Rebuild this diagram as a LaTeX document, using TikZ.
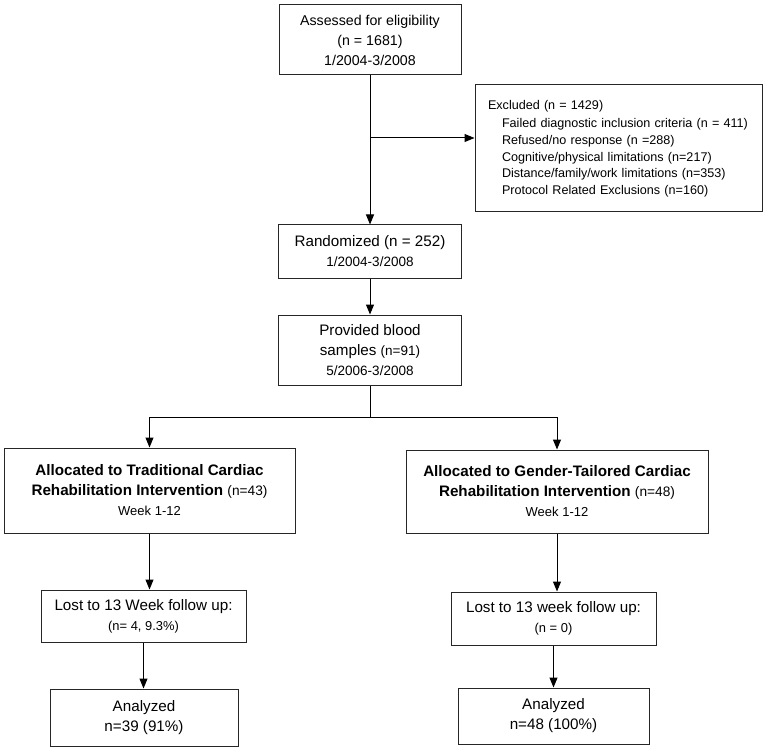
\documentclass[tikz,border=0pt]{standalone}
\usepackage{fontspec}
\setmainfont{Liberation Sans}
\usetikzlibrary{arrows.meta}
\newcommand{\sz}[2]{\fontsize{#1}{#2}\selectfont}

\begin{document}
\begin{tikzpicture}[x=1pt,y=-1pt,
  box/.style={draw=black!85,line width=1pt,rectangle,align=center,inner sep=0pt,node font=\sz{15.2}{20}},
  arr/.style={-{Triangle[length=10pt,width=8pt]},line width=1pt}]
\useasboundingbox (0,0) rectangle (765,751);
% top of the chart
\node[box,minimum width=182,minimum height=70,node font=\sz{14.2}{20}] (assess) at (370,40)
  {Assessed for eligibility\\ (n = 1681)\\ 1/2004-3/2008};
\node[box,minimum width=287,minimum height=127,align=left,text width=261pt,
  node font=\sz{12.6}{16.7}] (excl) at (618.5,148.5)
  {Excluded (n = 1429)\\[2pt]
  \hspace*{14pt}Failed diagnostic inclusion criteria (n = 411)\\
  \hspace*{14pt}Refused/no response (n =288)\\
  \hspace*{14pt}Cognitive/physical limitations (n=217)\\
  \hspace*{14pt}Distance/family/work limitations (n=353)\\
  \hspace*{14pt}Protocol Related Exclusions (n=160)};
\node[box,minimum width=183,minimum height=53] (rand) at (370,251.5)
  {Randomized (n = 252)\\ {\sz{13.5}{18}1/2004-3/2008}};
\node[box,minimum width=183,minimum height=70] (blood) at (370,350)
  {Provided blood\\ samples {\sz{13.5}{20}(n=91)}\\ {\sz{13.5}{20}5/2006-3/2008}};
% the two arms
\node[box,minimum width=291,minimum height=85] (lalloc) at (149.5,490.5)
  {\textbf{Allocated to Traditional Cardiac}\\
   \textbf{Rehabilitation Intervention} {\sz{13.7}{20}(n=43)}\\
   {\sz{13}{20}Week 1-12}};
\node[box,minimum width=302,minimum height=83] (ralloc) at (557,491.5)
  {\textbf{Allocated to Gender-Tailored Cardiac}\\
   \textbf{Rehabilitation Intervention} {\sz{13.7}{20}(n=48)}\\
   {\sz{13}{20}Week 1-12}};
\node[box,minimum width=205,minimum height=52] (llost) at (143.5,616)
  {Lost to 13 Week follow up:\\ {\sz{12.9}{20}(n= 4, 9.3\%)}};
\node[box,minimum width=205,minimum height=53] (rlost) at (553.5,618.5)
  {Lost to 13 week follow up:\\ {\sz{12.9}{20}(n = 0)}};
\node[box,minimum width=188,minimum height=57] (lanal) at (144,717.5)
  {Analyzed\\ n=39 (91\%)};
\node[box,minimum width=191,minimum height=56] (ranal) at (553.5,716)
  {Analyzed\\ n=48 (100\%)};
% connectors
\coordinate (split) at (370,138);
\coordinate (fork) at (370,417);
\draw[arr] (assess.south) -- (rand.north);
\draw[arr] (split) -- (split -| excl.west);
\draw[arr] (rand.south) -- (blood.north);
\draw[line width=1pt] (blood.south) -- (fork);
\draw[arr] (fork) -| (lalloc.north);
\draw[arr] (fork) -| (ralloc.north);
\draw[arr] (lalloc.south) -- (lalloc.south |- llost.north);
\draw[arr] (llost.south) -- (llost.south |- lanal.north);
\draw[arr] (ralloc.south) -- (ralloc.south |- rlost.north);
\draw[arr] (rlost.south) -- (rlost.south |- ranal.north);
\end{tikzpicture}
\end{document}
